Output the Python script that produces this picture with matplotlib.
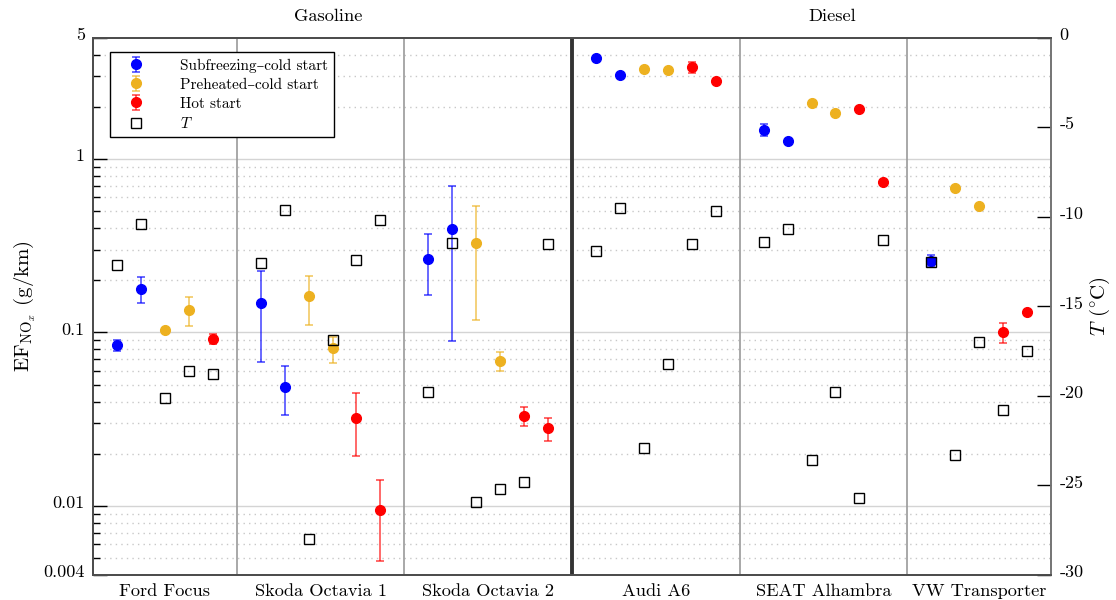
import numpy as np
import matplotlib
matplotlib.use("Agg")
import matplotlib.pyplot as plt
from matplotlib.ticker import FixedLocator, NullFormatter
import matplotlib.transforms as mtransforms

plt.rcParams['font.family'] = ['cmr10', 'DejaVu Serif']
plt.rcParams['mathtext.fontset'] = 'cm'
plt.rcParams['axes.unicode_minus'] = False

# ---------------- data ----------------
vehicles = ['Ford Focus', 'Skoda Octavia 1', 'Skoda Octavia 2',
            'Audi A6', 'SEAT Alhambra', 'VW Transporter']
fuel_groups = ['Gasoline', 'Diesel']
# start condition of each measurement, per vehicle (S=subfreezing cold, P=preheated cold, H=hot)
starts = [
    ['S', 'S', 'P', 'P', 'H'],
    ['S', 'S', 'P', 'P', 'H', 'H'],
    ['S', 'S', 'P', 'P', 'H', 'H'],
    ['S', 'S', 'P', 'P', 'H', 'H'],
    ['S', 'S', 'P', 'P', 'H', 'H'],
    ['S', 'P', 'P', 'H', 'H'],
]
ef_mean = [
    [0.0847, 0.178, 0.104, 0.135, 0.092],
    [0.147, 0.0486, 0.162, 0.081, 0.0320, 0.00952],
    [0.266, 0.394, 0.330, 0.0685, 0.0332, 0.0280],
    [3.80, 3.04, 3.31, 3.25, 3.38, 2.83],
    [1.475, 1.265, 2.10, 1.84, 1.95, 0.737],
    [0.258, 0.683, 0.538, 0.100, 0.132],
]
ef_low = [
    [0.0785, 0.148, 0.102, 0.109, 0.086],
    [0.068, 0.0333, 0.110, 0.0667, 0.0194, 0.00482],
    [0.165, 0.0893, 0.1186, 0.0596, 0.0288, 0.0237],
    [3.76, 3.01, 3.28, 3.22, 3.13, 2.81],
    [1.358, 1.25, 2.08, 1.82, 1.93, 0.73],
    [0.242, 0.677, 0.533, 0.0867, 0.129],
]
ef_high = [
    [0.0905, 0.208, 0.106, 0.160, 0.098],
    [0.226, 0.0644, 0.212, 0.0946, 0.0448, 0.0142],
    [0.368, 0.696, 0.538, 0.0775, 0.0373, 0.0323],
    [3.84, 3.07, 3.34, 3.28, 3.64, 2.85],
    [1.60, 1.28, 2.12, 1.86, 1.97, 0.745],
    [0.279, 0.69, 0.543, 0.114, 0.135],
]
temperature = [
    [-12.7, -10.4, -20.1, -18.6, -18.8],
    [-12.6, -9.6, -28.0, -16.9, -12.4, -10.2],
    [-19.8, -11.45, -25.9, -25.2, -24.8, -11.5],
    [-11.9, -9.5, -22.9, -18.2, -11.5, -9.7],
    [-11.4, -10.7, -23.6, -19.8, -25.7, -11.3],
    [-12.5, -23.3, -17.0, -20.8, -17.5],
]
start_labels = {'S': 'Subfreezing–cold start',
                'P': 'Preheated–cold start',
                'H': 'Hot start'}

# ---------------- styles ----------------
colors = {'S': (0, 0, 1), 'P': (0.929, 0.694, 0.125), 'H': (1, 0, 0)}

W, H = 1116, 600
fig = plt.figure(figsize=(W / 100, H / 100), dpi=100)
ax = fig.add_axes([93 / W, 1 - 575 / H, (1051 - 93) / W, (575 - 37.7) / H])
ax2 = ax.twinx()

# slot positions: one slot per measurement, one empty slot between vehicles
xpos, seps, centers = [], [], []
cur = 1
left_edge = 0
for i, st in enumerate(starts):
    p = list(range(cur, cur + len(st)))
    xpos.append(p)
    right_edge = cur + len(st)
    centers.append((left_edge + right_edge) / 2)
    if i < len(starts) - 1:
        seps.append(right_edge)
    left_edge = right_edge
    cur = right_edge + 1
xmax = left_edge

handles = {}
for i in range(len(vehicles)):
    for j, s in enumerate(starts[i]):
        m = ef_mean[i][j]
        lo = m - ef_low[i][j]
        hi = ef_high[i][j] - m
        c = colors[s]
        eb = ax.errorbar([xpos[i][j]], [m], yerr=[[lo], [hi]], fmt='o', color=c,
                         ms=7, mec=c, ecolor=c, elinewidth=1.1, capsize=3,
                         capthick=1.1, zorder=3)
        eb[2][0].set_alpha(0.75)
        for cl in eb[1]:
            cl.set_alpha(0.75)
        handles.setdefault(s, eb)

allx = [x for p in xpos for x in p]
allT = [t for tt in temperature for t in tt]
sq, = ax2.plot(allx, allT, 's', ms=7, mfc='none', mec='black', mew=1.0,
               linestyle='none', zorder=4)

# axes setup
ax.set_yscale('log')
ax.set_ylim(0.004, 5)
ax.set_xlim(0, xmax)
ax2.set_ylim(-30, 0)

ax.yaxis.set_major_locator(FixedLocator([0.004, 0.01, 0.1, 1, 5]))
ax.set_yticklabels(['0.004', '0.01', '0.1', '1', '5'])
minors = [k * 10.0 ** e for e in (-3, -2, -1, 0) for k in range(2, 10)]
minors = [v for v in minors if 0.004 < v < 5 and v not in (0.01, 0.1, 1)]
ax.yaxis.set_minor_locator(FixedLocator(minors))
ax.yaxis.set_minor_formatter(NullFormatter())

# grid
for v in (0.01, 0.1, 1):
    ax.axhline(v, color='#d4d4d4', lw=1.0, zorder=0)
for v in minors:
    if v > 0.004:
        ax.axhline(v, color='#c8c8c8', lw=1.0, ls=(0, (1, 3)), zorder=0)

for s in seps:
    if s == 20:
        ax.axvline(s, color='#333333', lw=2.8, zorder=1)
    else:
        ax.axvline(s, color='#9a9a9a', lw=1.2, zorder=1)

ax.set_xticks(centers)
ax.set_xticklabels(vehicles, fontsize=13.2)
ax.tick_params(axis='x', length=0, pad=6)
ax.tick_params(axis='y', which='major', direction='in', length=10, width=1.0,
               labelsize=13, pad=6)
ax.tick_params(axis='y', which='minor', direction='in', length=5, width=1.0)

ax2.set_yticks(np.arange(-30, 1, 5))
ax2.set_yticklabels([str(v) for v in range(-30, 1, 5)])
ax2.tick_params(axis='y', direction='in', length=10, width=1.0, labelsize=13, pad=6)

for a in (ax, ax2):
    for sp in a.spines.values():
        sp.set_color('#4d4d4d')
        sp.set_linewidth(1.3)
ax2.spines['right'].set_color('#7a7a7a')

# shift tick labels slightly upward
off = mtransforms.ScaledTranslation(0, 4 / 100, fig.dpi_scale_trans)
for a in (ax, ax2):
    for lab in a.get_yticklabels():
        lab.set_transform(lab.get_transform() + off)

# group titles
ax.text(9.8, 1.025, fuel_groups[0], transform=ax.get_xaxis_transform(),
        ha='center', va='bottom', fontsize=13.2)
ax.text(30.85, 1.025, fuel_groups[1], transform=ax.get_xaxis_transform(),
        ha='center', va='bottom', fontsize=13.2)

ax.set_ylabel(r'$\mathrm{EF}_{\mathrm{NO}_x}$ (g/km)', fontsize=15, labelpad=4)
ax2.set_ylabel(r'$T$ ($^{\circ}$C)', fontsize=15, labelpad=3)

leg = ax2.legend([handles['S'], handles['P'], handles['H'], sq],
                 [start_labels['S'], start_labels['P'], start_labels['H'], r'$T$'],
                 loc='upper left', bbox_to_anchor=(0.0177, 0.973),
                 borderaxespad=0, fontsize=11, frameon=True, fancybox=False,
                 edgecolor='black', framealpha=1, handletextpad=1.6,
                 labelspacing=0.35, borderpad=0.4, handlelength=2.6)
leg.get_frame().set_linewidth(1.0)

fig.savefig('out.png', dpi=100)
